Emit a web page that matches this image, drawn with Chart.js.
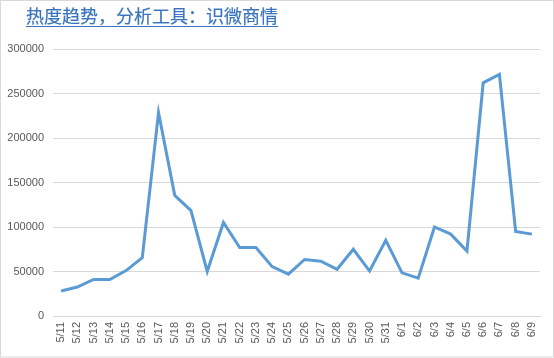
<!DOCTYPE html>
<html>
<head>
<meta charset="utf-8">
<script src="https://cdn.jsdelivr.net/npm/chart.js@4/dist/chart.umd.min.js"></script>
<style>
  html, body { margin: 0; padding: 0; background: #fff; }
  #wrap { position: relative; width: 554px; height: 358px; }
  #title {
    position: absolute; left: 26px; top: 6px;
    font-family: "Noto Sans CJK SC", sans-serif; font-size: 18px; line-height: 18px;
    color: #3A74BE; text-decoration: underline; text-underline-offset: 3px; white-space: nowrap;
    -webkit-text-stroke: 0.2px #3A74BE;
  }
  canvas { position: absolute; left: 0; top: 0; }
</style>
</head>
<body>
<div id="wrap">
  <canvas id="c" width="554" height="358"></canvas>
  <div id="title">热度趋势，分析工具：识微商情</div>
</div>
<script>
const categories = ["5/11","5/12","5/13","5/14","5/15","5/16","5/17","5/18","5/19","5/20",
  "5/21","5/22","5/23","5/24","5/25","5/26","5/27","5/28","5/29","5/30","5/31",
  "6/1","6/2","6/3","6/4","6/5","6/6","6/7","6/8","6/9"];
const heatValues = [28000, 32500, 41000, 41000, 51000, 65500, 228500, 135500, 118500, 50000,
  105000, 77000, 77000, 55500, 47000, 63500, 61500, 52500, 75000, 50500, 85000,
  48500, 42500, 100000, 92000, 73000, 262000, 271500, 95000, 92000];
const yTicks = [0, 50000, 100000, 150000, 200000, 250000, 300000];

const borderPlugin = {
  id: 'outerBorder',
  beforeDraw(chart) {
    const ctx = chart.ctx;
    ctx.save();
    ctx.fillStyle = '#fff';
    ctx.fillRect(0, 0, chart.width, chart.height);
    ctx.strokeStyle = '#D9D9D9';
    ctx.lineWidth = 1;
    ctx.strokeRect(0.5, 0.5, chart.width - 1, chart.height - 1.5);
    ctx.restore();
  }
};

new Chart(document.getElementById('c'), {
  type: 'line',
  data: {
    labels: categories,
    datasets: [{
      data: heatValues,
      borderColor: '#5B9BD5',
      borderWidth: 3,
      pointRadius: 0,
      tension: 0,
      fill: false
    }]
  },
  options: {
    responsive: false,
    animation: false,
    layout: { padding: { left: 0, right: 14, top: 49, bottom: 0 } },
    plugins: { legend: { display: false }, title: { display: false }, tooltip: { enabled: false } },
    scales: {
      x: {
        offset: true,
        grid: { display: false, drawTicks: false },
        border: { display: true, color: '#D9D9D9', width: 1 },
        ticks: {
          color: '#595959', font: { family: 'Liberation Sans', size: 11 },
          minRotation: 90, maxRotation: 90, padding: 6, autoSkip: false
        },
        afterFit(s) { s.height = 42; }
      },
      y: {
        min: 0, max: 300000,
        afterBuildTicks(s) { s.ticks = yTicks.map(v => ({ value: v })); },
        grid: { color: '#D9D9D9', drawTicks: false },
        border: { display: false },
        ticks: {
          color: '#595959', font: { family: 'Liberation Sans', size: 11 },
          padding: 9,
          callback: v => String(v)
        },
        afterFit(s) { s.width = 53; }
      }
    }
  },
  plugins: [borderPlugin]
});
</script>
</body>
</html>
